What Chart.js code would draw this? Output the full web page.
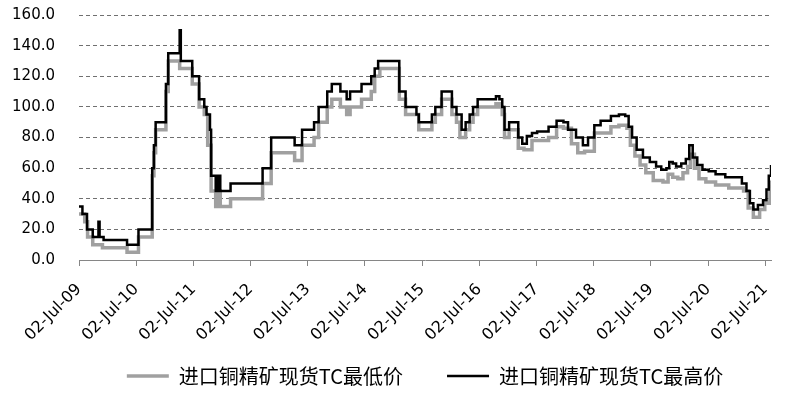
<!DOCTYPE html>
<html lang="zh">
<head>
<meta charset="UTF-8">
<title>进口铜精矿现货TC</title>
<script src="https://cdn.jsdelivr.net/npm/chart.js"></script>
<style>
    html, body { margin: 0; padding: 0; background: #fff; }
    #wrap { width: 793px; height: 394px; }
</style>
</head>
<body>
<div id="wrap"><canvas id="tcChart"></canvas></div>
<script>
// x positions are decimal years (2009.50 = 02-Jul-09)
const tickYears = [2009.5, 2010.5, 2011.5, 2012.5, 2013.5, 2014.5, 2015.5, 2016.5, 2017.5, 2018.5, 2019.5, 2020.5, 2021.5];
const tickLabels = ['02-Jul-09', '02-Jul-10', '02-Jul-11', '02-Jul-12', '02-Jul-13', '02-Jul-14', '02-Jul-15',
    '02-Jul-16', '02-Jul-17', '02-Jul-18', '02-Jul-19', '02-Jul-20', '02-Jul-21'];

const seriesNames = ['进口铜精矿现货TC最低价', '进口铜精矿现货TC最高价'];

// 最低价
const lowDates = [2009.50, 2009.60, 2009.65, 2009.74, 2009.91, 2010.34, 2010.54, 2010.78, 2010.81, 2010.84,
    2011.02, 2011.06, 2011.26, 2011.48, 2011.60, 2011.69, 2011.75, 2011.81, 2011.89, 2011.93, 2011.97,
    2012.15, 2012.71, 2012.86, 2013.27, 2013.40, 2013.61, 2013.69, 2013.84, 2013.92, 2014.07, 2014.18,
    2014.24, 2014.44, 2014.61, 2014.67, 2014.76, 2015.10, 2015.21, 2015.44, 2015.67, 2015.73, 2015.84,
    2016.02, 2016.10, 2016.16, 2016.26, 2016.33, 2016.39, 2016.47, 2016.79, 2016.85, 2016.90, 2016.94,
    2017.02, 2017.18, 2017.28, 2017.42, 2017.71, 2017.85, 2017.97, 2018.11, 2018.22, 2018.34, 2018.51,
    2018.80, 2018.94, 2019.08, 2019.14, 2019.22, 2019.31, 2019.41, 2019.54, 2019.71, 2019.80, 2019.88,
    2019.97, 2020.06, 2020.14, 2020.19, 2020.26, 2020.34, 2020.46, 2020.63, 2020.86, 2021.03, 2021.12,
    2021.20, 2021.29, 2021.40, 2021.49, 2021.58, 2021.60];
const lowValues = [30, 25, 15, 10, 8, 5, 15, 55, 70, 85,
    110, 130, 125, 115, 100, 95, 75, 45, 35, 45, 35,
    40, 50, 70, 65, 75, 80, 90, 100, 105, 100, 95,
    100, 105, 110, 120, 125, 105, 95, 85, 90, 95, 105,
    95, 90, 80, 85, 90, 95, 100, 102, 100, 95, 80,
    85, 73, 72, 78, 80, 87, 86, 76, 70, 71, 83,
    87, 88, 86, 75, 68, 62, 57, 52, 51, 56, 54,
    53, 57, 61, 69, 60, 53, 51, 49, 47, 47, 45,
    34, 28, 33, 37, 48, 52];

// 最高价
const highDates = [2009.50, 2009.56, 2009.64, 2009.74, 2009.84, 2009.86, 2009.93, 2010.34, 2010.54, 2010.78,
    2010.81, 2010.84, 2011.02, 2011.06, 2011.26, 2011.28, 2011.48, 2011.60, 2011.69, 2011.73, 2011.79,
    2011.81, 2011.89, 2011.93, 2011.97, 2012.15, 2012.71, 2012.86, 2013.27, 2013.40, 2013.61, 2013.69,
    2013.84, 2013.92, 2014.07, 2014.18, 2014.24, 2014.44, 2014.61, 2014.67, 2014.73, 2015.10, 2015.21,
    2015.40, 2015.44, 2015.67, 2015.73, 2015.84, 2016.02, 2016.10, 2016.19, 2016.26, 2016.33, 2016.39,
    2016.47, 2016.79, 2016.85, 2016.90, 2016.94, 2017.02, 2017.18, 2017.25, 2017.33, 2017.42, 2017.51,
    2017.71, 2017.85, 2017.97, 2018.05, 2018.19, 2018.31, 2018.40, 2018.51, 2018.62, 2018.80, 2018.94,
    2019.05, 2019.11, 2019.17, 2019.25, 2019.36, 2019.48, 2019.59, 2019.68, 2019.77, 2019.82, 2019.88,
    2019.94, 2020.03, 2020.11, 2020.17, 2020.23, 2020.31, 2020.40, 2020.51, 2020.63, 2020.80, 2021.00,
    2021.09, 2021.17, 2021.23, 2021.29, 2021.37, 2021.46, 2021.52, 2021.56, 2021.60];
const highValues = [35, 30, 20, 15, 25, 15, 13, 10, 20, 60,
    75, 90, 115, 135, 150, 130, 120, 105, 100, 95, 85,
    55, 45, 55, 45, 50, 60, 80, 75, 85, 90, 100,
    110, 115, 110, 105, 110, 115, 120, 125, 130, 110, 100,
    95, 90, 95, 100, 110, 100, 95, 85, 90, 95, 100,
    105, 107, 105, 100, 85, 90, 80, 76, 81, 83, 84,
    87, 91, 90, 85, 80, 75, 80, 88, 91, 94, 95,
    94, 87, 80, 72, 67, 64, 61, 59, 60, 64, 63,
    61, 63, 66, 75, 67, 62, 59, 58, 56, 54, 54,
    50, 45, 37, 33, 36, 39, 46, 55, 62];

const yTicks = { min: 0, max: 160, step: 20 };

function toPoints(xs, ys) {
    return xs.map((x, i) => ({ x: x, y: ys[i] }));
}

// legend items need a wide gap between them but should sit close under the axis labels
const legendLift = {
    id: 'legendLift',
    afterLayout(chart) {
        const lg = chart.legend;
        const shift = 22;
        lg.top -= shift;
        lg.height += shift;
    }
};

const ctx = document.getElementById('tcChart');

new Chart(ctx, {
    type: 'line',
    data: {
        datasets: [
            {
                label: seriesNames[1],
                data: toPoints(highDates, highValues),
                borderColor: '#000000',
                backgroundColor: '#000000',
                borderWidth: 2.5,
                stepped: true,
                pointRadius: 0
            },
            {
                label: seriesNames[0],
                data: toPoints(lowDates, lowValues),
                borderColor: '#a0a0a0',
                backgroundColor: '#a0a0a0',
                borderWidth: 3.5,
                stepped: true,
                pointRadius: 0
            }
        ]
    },
    plugins: [legendLift],
    options: {
        responsive: true,
        maintainAspectRatio: false,
        animation: false,
        layout: { padding: { left: 0, right: 10, top: 15, bottom: 0 } },
        plugins: {
            tooltip: { enabled: false },
            legend: {
                position: 'bottom',
                fullSize: false,
                reverse: true,
                maxHeight: 50,
                labels: {
                    usePointStyle: true,
                    pointStyle: 'line',
                    pointStyleWidth: 42,
                    color: '#000',
                    padding: 44,
                    font: { family: '"Noto Sans CJK SC"', size: 20 }
                }
            }
        },
        scales: {
            x: {
                type: 'linear',
                min: tickYears[0],
                max: 2021.60,
                afterBuildTicks: (scale) => {
                    scale.ticks = tickYears.map(v => ({ value: v }));
                },
                afterFit: (scale) => { scale.height = 84; },
                grid: {
                    drawOnChartArea: false,
                    drawTicks: true,
                    tickLength: 6,
                    color: '#868686'
                },
                border: { display: true, color: '#868686', width: 1 },
                ticks: {
                    autoSkip: false,
                    maxRotation: 45,
                    minRotation: 45,
                    padding: 14,
                    color: '#000',
                    font: { family: '"DejaVu Sans"', size: 16 },
                    callback: (value, index) => tickLabels[index]
                }
            },
            y: {
                min: yTicks.min,
                max: yTicks.max,
                afterFit: (scale) => { scale.width = 79; },
                grid: {
                    drawTicks: true,
                    tickLength: 24,
                    tickColor: 'rgba(0,0,0,0)',
                    color: (c) => c.tick.value === 0 ? 'rgba(0,0,0,0)' : '#707070',
                    lineWidth: 1
                },
                border: { display: false, dash: [4, 3] },
                ticks: {
                    stepSize: yTicks.step,
                    padding: 0,
                    color: '#000',
                    font: { family: '"DejaVu Sans"', size: 15 },
                    callback: (v) => v.toFixed(1)
                }
            }
        }
    }
});
</script>
</body>
</html>
